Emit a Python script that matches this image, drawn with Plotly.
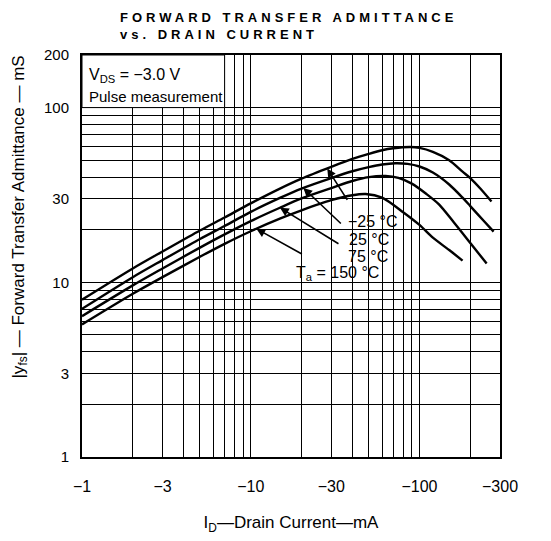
import numpy as np
import plotly.graph_objects as go

# |ID| drain current (mA) vs |yfs| (mS)
id_m25 = [1, 2, 3, 5, 7, 10, 15, 20, 30, 40, 50, 60, 70, 88, 100, 120, 150, 180, 200, 230, 267]
yfs_m25 = [7.95, 12.0, 15.0, 19.8, 23.5, 28.3, 34.5, 39.2, 45.8, 50.8, 54.3, 57.0, 58.5, 59.5, 58.8,
           55.8, 50.0, 43.0, 39.5, 34.3, 29.0]

id_25 = [1, 2, 3, 5, 7, 10, 15, 20, 30, 40, 50, 60, 72, 85, 100, 120, 150, 180, 200, 240, 275]
yfs_25 = [7.05, 10.7, 13.4, 17.7, 21.0, 25.3, 30.5, 34.4, 39.5, 43.2, 45.6, 47.2, 48.0, 47.6, 46.0,
          42.5, 36.3, 30.5, 27.3, 22.5, 19.5]

id_75 = [1, 2, 3, 5, 7, 10, 15, 20, 30, 40, 50, 63, 75, 90, 110, 130, 160, 200, 250]
yfs_75 = [6.4, 9.6, 12.0, 15.8, 18.8, 22.4, 26.8, 30.2, 34.6, 38.0, 40.0, 40.6, 39.6, 36.7, 32.0,
          28.0, 22.0, 16.8, 12.8]

id_150 = [1, 2, 3, 5, 7, 10, 15, 20, 30, 40, 48, 60, 80, 100, 120, 150, 180]
yfs_150 = [5.74, 8.6, 10.7, 14.0, 16.6, 19.6, 23.2, 25.8, 29.5, 31.5, 32.0, 30.5, 25.2, 21.3, 18.0,
           15.3, 13.3]

# labelled ticks and the full log grid
x_ticks = [1, 3, 10, 30, 100, 300]
x_ticktext = ["−1", "−3", "−10", "−30", "−100", "−300"]
x_grid = [2, 4, 5, 6, 7, 8, 9, 20, 40, 50, 60, 70, 80, 90, 200]
y_ticks = [1, 3, 10, 30, 100, 200]
y_ticktext = ["1", "3", "10", "30", "100", "200"]
y_grid = [2, 4, 5, 6, 7, 8, 9, 20, 40, 50, 60, 70, 80, 90]

# temperature labels: text, label position (ID, yfs), ID where the leader touches
# the curve, leader tail offset from that point (px)
curves = [
    (id_m25, yfs_m25, "−25 °C", (37.0, 22.4), 28.4, (21, 33)),
    (id_25, yfs_25, "25 °C", (37.8, 17.5), 20.5, (39, 37)),
    (id_75, yfs_75, "75 °C", (37.3, 14.1), 14.9, (60, 37)),
    (id_150, yfs_150, "T<sub>a</sub> = 150 °C", (18.2, 11.2), 10.8, (47, 26)),
]

FONT = "Liberation Sans"

fig = go.Figure()
for xs, ys, *_ in curves:
    fig.add_trace(go.Scatter(
        x=xs, y=ys, mode="lines",
        line={"color": "black", "width": 2.4, "shape": "spline", "smoothing": 0.8},
        showlegend=False, hoverinfo="skip"
    ))

annotations = [
    dict(text="FORWARD TRANSFER ADMITTANCE<br>vs. DRAIN CURRENT", xref="paper", yref="paper",
         x=0.085, y=1.118, xanchor="left", yanchor="top", align="left", showarrow=False,
         font={"size": 13, "family": FONT, "color": "black", "weight": "bold"}),
    dict(text="V<sub>DS</sub> = −3.0 V", xref="paper", yref="paper", x=0.012, y=0.949,
         xanchor="left", yanchor="middle", showarrow=False, font={"size": 16, "family": FONT}),
    dict(text="Pulse measurement", xref="paper", yref="paper", x=0.012, y=0.897,
         xanchor="left", yanchor="middle", showarrow=False, font={"size": 15, "family": FONT}),
    dict(text="|y<sub>fs</sub>| — Forward Transfer Admittance — mS", xref="paper", yref="paper",
         x=-0.148, y=0.596, textangle=-90, xanchor="center", yanchor="middle", showarrow=False,
         font={"size": 17, "family": FONT}),
]
for xs, ys, label, (lx, ly), hx, (dx, dy) in curves:
    hy = 10 ** np.interp(np.log10(hx), np.log10(xs), np.log10(ys))
    annotations.append(dict(
        text="", x=np.log10(hx), y=np.log10(hy), xref="x", yref="y",
        ax=dx, ay=dy, showarrow=True, arrowhead=2, arrowsize=1.1, arrowwidth=1.6,
        arrowcolor="black", standoff=0
    ))
    annotations.append(dict(
        text=label, x=np.log10(lx), y=np.log10(ly), xref="x", yref="y",
        xanchor="left", yanchor="middle", showarrow=False, borderpad=0,
        font={"size": 16, "family": FONT}
    ))

axis_common = dict(
    type="log", showgrid=True, gridcolor="black", gridwidth=1.2,
    showline=True, linecolor="black", linewidth=2, mirror=True,
    zeroline=False, ticks="",
)

fig.update_layout(
    width=551, height=541,
    margin={"l": 82, "r": 51, "t": 55, "b": 80},
    paper_bgcolor="white", plot_bgcolor="white",
    font={"family": FONT, "color": "black"},
    xaxis=dict(axis_common, range=[0, np.log10(300)], tickmode="array",
               tickvals=x_ticks, ticktext=x_ticktext,
               minor={"tickvals": x_grid, "showgrid": True, "gridcolor": "black",
                      "gridwidth": 1.2, "ticks": ""},
               tickfont={"size": 16}, ticklabelstandoff=14,
               title={"text": "I<sub>D</sub>—Drain Current—mA", "font": {"size": 17},
                      "standoff": 22}),
    yaxis=dict(axis_common, range=[0, np.log10(200)], tickmode="array",
               tickvals=y_ticks, ticktext=y_ticktext,
               minor={"tickvals": y_grid, "showgrid": True, "gridcolor": "black",
                      "gridwidth": 1.2, "ticks": ""},
               tickfont={"size": 15}, ticklabelstandoff=8),
    annotations=annotations,
    shapes=[dict(type="rect", xref="x", yref="y", x0=1, x1=7, y0=100, y1=200,
                 fillcolor="white", line={"color": "black", "width": 1}, layer="between")],
)

# page without body margin; datasheet title set with wide letter spacing
post_script = (
    "document.body.style.margin = '0';"
    "var gd = document.getElementById('{plot_id}');"
    "gd.querySelectorAll('.annotation-text').forEach(function(t) {"
    "  if (t.textContent.indexOf('FORWARD') === 0) { t.style.letterSpacing = '4px'; }"
    "});"
)

fig.write_html("out.html", post_script=post_script, config={"displayModeBar": False})
